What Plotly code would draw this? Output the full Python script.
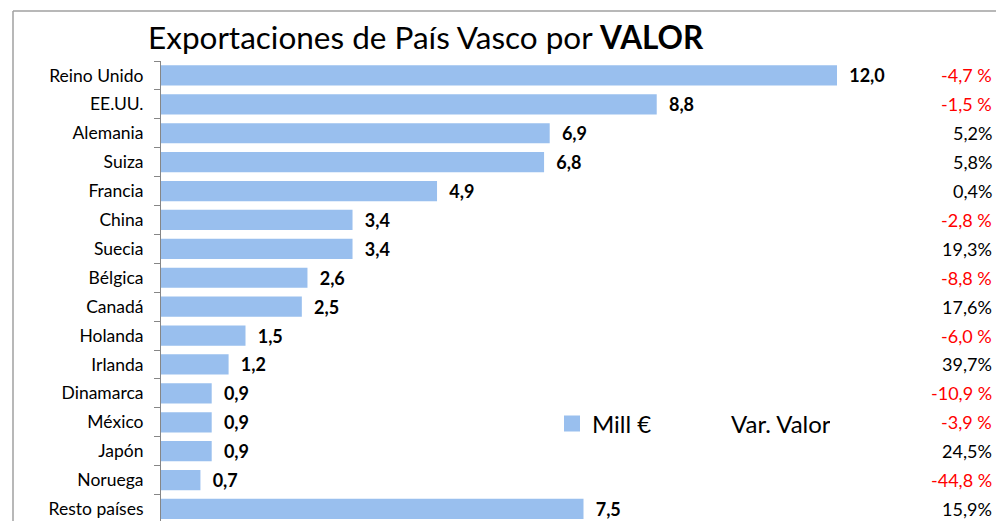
import plotly.graph_objects as go

countries = ["Reino Unido", "EE.UU.", "Alemania", "Suiza", "Francia", "China", "Suecia",
             "Bélgica", "Canadá", "Holanda", "Irlanda", "Dinamarca", "México", "Japón",
             "Noruega", "Resto países"]
mill_eur = [12.0, 8.8, 6.9, 6.8, 4.9, 3.4, 3.4, 2.6, 2.5, 1.5, 1.2, 0.9, 0.9, 0.9, 0.7, 7.5]
var_valor = [-4.7, -1.5, 5.2, 5.8, 0.4, -2.8, 19.3, -8.8, 17.6, -6.0, 39.7, -10.9, -3.9, 24.5, -44.8, 15.9]

FONT = "Lato"
BAR_COLOR = "#99BFEE"
W, H = 996, 521
ML, MT, MB, MR = 161, 61, 0, 0
PW = W - ML - MR
PH = H - MT - MB

def fmt1(v):
    return f"{v:.1f}".replace(".", ",")

def fmt_pct(v):
    s = fmt1(v)
    return s + " %" if v < 0 else s + "%"

bar_text = ["\u00a0\u00a0<b>" + fmt1(v) + "</b>" for v in mill_eur]

fig = go.Figure()
fig.add_trace(go.Bar(
    x=mill_eur, y=countries, orientation="h", name="Mill €",
    marker=dict(color=BAR_COLOR, line=dict(width=0)),
    text=bar_text, textposition="outside", cliponaxis=False, constraintext="none",
    textfont=dict(family=FONT, size=18, color="black"),
    hoverinfo="x+y", showlegend=False, legendgroup="mill",
))
# legend entries
fig.add_trace(go.Scatter(
    x=[None], y=[None], mode="markers", name="Mill €", legendgroup="mill",
    marker=dict(color=BAR_COLOR, symbol="square", size=16),
))
fig.add_trace(go.Scatter(
    x=[None], y=[None], mode="markers", name="Var. Valor",
    marker=dict(color="rgba(0,0,0,0)", size=1),
))

px_per_row = 28.93
y_bottom = (H - 75) / px_per_row

annotations = []
for c, v in zip(countries, var_valor):
    annotations.append(dict(
        x=(994 - ML) / PW, xref="paper", xanchor="right",
        y=c, yref="y", yanchor="middle",
        text=fmt_pct(v), showarrow=False,
        font=dict(family=FONT, size=18, color="#FF0000" if v < 0 else "black"),
    ))

shapes = [
    dict(type="line", xref="paper", yref="paper",
         x0=(13 - ML) / PW, x1=(W - ML) / PW, y0=(H - 11) / PH, y1=(H - 11) / PH,
         line=dict(color="#A0A0A0", width=1.5)),
    dict(type="line", xref="paper", yref="paper",
         x0=(13 - ML) / PW, x1=(13 - ML) / PW, y0=(H - 11) / PH, y1=0,
         line=dict(color="#A0A0A0", width=1.5)),
]

fig.update_layout(
    width=W, height=H,
    margin=dict(l=ML, r=MR, t=MT, b=MB, pad=0),
    paper_bgcolor="white", plot_bgcolor="white",
    font=dict(family=FONT, color="black"),
    bargap=0.3,
    title=dict(text="Exportaciones de País Vasco por <b>VALOR</b>",
               font=dict(family=FONT, size=31.5, color="black"),
               x=148 / W, xref="container", xanchor="left",
               y=1 - 38 / H, yref="container", yanchor="middle"),
    xaxis=dict(range=[0, PW / ((837 - ML) / 12.0)], showgrid=False, zeroline=False,
               showticklabels=False, showline=False, fixedrange=True),
    yaxis=dict(type="category", range=[y_bottom, -0.5], autorange=False,
               showline=True, linecolor="#868686", linewidth=1,
               ticks="outside", ticklen=6, tickcolor="#868686", tickson="boundaries",
               ticklabelstandoff=13,
               tickfont=dict(family=FONT, size=17.5, color="black"),
               showgrid=False, zeroline=False),
    showlegend=True,
    legend=dict(orientation="h", x=(552 - ML) / PW, xanchor="left",
                y=(H - 424) / PH, yanchor="middle",
                font=dict(family=FONT, size=24, color="black"),
                bgcolor="rgba(0,0,0,0)", entrywidth=94, entrywidthmode="pixels",
                itemsizing="trace"),
    annotations=annotations,
    shapes=shapes,
)

fig.write_html("out.html", config={"displayModeBar": False},
               post_script="document.body.style.margin='0';document.body.style.overflow='hidden';")
